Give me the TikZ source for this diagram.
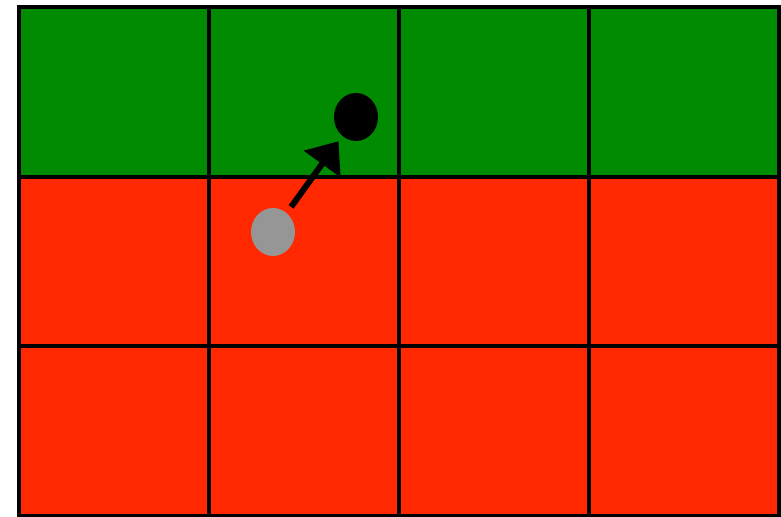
\documentclass[tikz,border=0pt]{standalone}
\usepackage{tikz}
\usetikzlibrary{arrows.meta, shapes.geometric}
\definecolor{topgreen}{RGB}{0,139,0}
\definecolor{lowred}{RGB}{255,40,0}
\definecolor{dotgray}{RGB}{150,150,150}
\tikzset{
    cellbox/.style={draw=black, line width=0.04cm},
    ball/.style={ellipse, inner sep=0pt, minimum width=0.44cm, minimum height=0.48cm},
    move/.style={-{Triangle[length=0.28cm, width=0.44cm]}, line width=0.06cm, shorten <=0.07cm, shorten >=0.06cm}
}
\begin{document}
\begin{tikzpicture}
    \useasboundingbox (0,0) rectangle (7.81,5.17);
    % grid of cells
    \foreach \col in {0,...,3} {
        \foreach \row/\clr in {0/lowred, 1/lowred, 2/topgreen} {
            \filldraw[cellbox, fill=\clr] (0.19+1.899*\col, 0.01+1.697*\row) rectangle ++(1.899,1.697);
        }
    }

    \node[ball, fill=dotgray] (start) at (2.73,2.85) {};
    \node[ball, fill=black] (goal) at (3.56,4.00) {};

    \draw[move] (start) -- (goal);
\end{tikzpicture}
\end{document}
